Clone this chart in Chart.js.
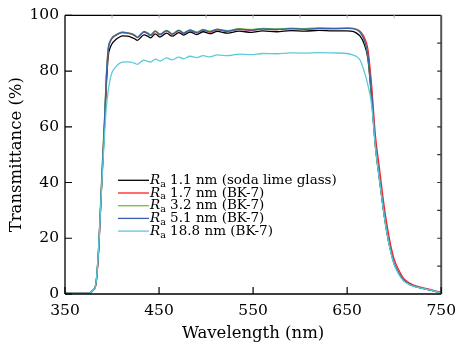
<!DOCTYPE html>
<html>
<head>
<meta charset="utf-8">
<script src="https://cdn.jsdelivr.net/npm/chart.js@4"></script>
<style>
  html, body { margin: 0; padding: 0; background: #fff; }
  #wrap { width: 464px; height: 350px; }
</style>
</head>
<body>
<div id="wrap"><canvas id="chart" width="464" height="350"></canvas></div>
<script>
const wavelengths = [350,360,370,376,380, 383,386,388,390,392, 394,396,398,400,404, 408,411,416,420,424,
  427,431,434,438,441, 446,451,458,464,471, 476,483,490,497,504, 512,523,535,548,560,
  575,590,605,620,635, 650,656,660,664,668, 672,676,680,684,688, 692,696,700,705,710, 715,720,730,740,750];

const sodaLime = [0.3,0.2,0.2,0.4,1.4, 3.8,17,32,46,60, 75,85.5,88.3,89.8,91.3, 92.2,92.6,92.5,92.2,91.6,
  91.0,92.2,93.0,92.5,91.9, 93.3,92.2,93.6,92.5,93.8, 92.9,94.0,93.1,94.1,93.4, 94.2,93.6,94.3,93.9,94.4,
  94.1,94.5,94.3,94.6,94.4, 94.4,94.2,93.6,92.4,89.8, 84.5,70,53,42,31.5, 22.5,15.8,10.8,7.3,4.9, 3.7,2.9,2.0,1.3,0.4];
const bk7_17 = [0.3,0.2,0.2,0.4,1.4, 3.8,17,32,47,61, 77,87.5,90.4,91.7,92.8, 93.5,93.8,93.6,93.3,92.7,
  92.0,93.2,94.0,93.4,92.8, 94.2,93.0,94.4,93.2,94.5, 93.5,94.6,93.7,94.7,94.0, 94.8,94.2,95.0,94.6,95.1,
  94.9,95.2,95.0,95.3,95.2, 95.4,95.3,95.0,94.2,92.2, 88,75,57,46,35, 25.5,18,12.5,8.5,5.6, 4.2,3.3,2.3,1.5,0.5];
const bk7_32 = [0.3,0.2,0.2,0.4,1.6, 4.2,18.5,34,49,63, 79,88.5,90.8,92.0,93.0, 93.7,94.0,93.8,93.5,92.9,
  92.2,93.4,94.2,93.6,93.0, 94.4,93.3,94.6,93.4,94.7, 93.8,94.8,94.0,94.9,94.3, 95.0,94.5,95.2,94.9,95.3,
  95.1,95.4,95.2,95.5,95.4, 95.4,95.3,94.9,93.9,91.2, 85.5,71,53,42,31.5, 22.5,15.8,10.8,7.3,4.9, 3.7,2.9,2.0,1.3,0.4];
const bk7_51 = [0.3,0.2,0.2,0.4,1.5, 4,18,33,48,62, 78,88,90.6,91.8,92.9, 93.6,93.9,93.7,93.4,92.8,
  92.1,93.3,94.1,93.5,92.9, 94.3,93.1,94.5,93.3,94.6, 93.6,94.7,93.8,94.8,94.1, 94.9,94.3,95.0,94.7,95.1,
  94.9,95.2,95.0,95.3,95.2, 95.3,95.2,94.8,93.8,91.3, 86,72,54,43,32, 23,16,11,7.5,5, 3.8,3.0,2.1,1.3,0.4];
const bk7_188 = [0.3,0.2,0.2,0.4,1.5, 4,18,32,45,57, 67,73,77,79.5,81.5, 82.8,83.2,83.3,83.2,82.8,
  82.4,83.4,83.9,83.5,83.2, 84.3,83.6,84.7,84.0,85.0, 84.4,85.3,84.8,85.5,85.1, 85.8,85.5,86.1,85.9,86.3,
  86.2,86.5,86.4,86.6,86.5, 86.3,85.8,85.2,83.8,80, 75,68,53,42,31.5, 22.5,15.5,10.5,7,4.7, 3.6,2.8,2.0,1.3,0.4];

const roughness = ["1.1 nm (soda lime glass)", "1.7 nm (BK-7)", "3.2 nm (BK-7)", "5.1 nm (BK-7)", "18.8 nm (BK-7)"];
const seriesValues = [sodaLime, bk7_17, bk7_32, bk7_51, bk7_188];
const seriesColors = ["#000000", "#ff2020", "#6cc33c", "#3a5fae", "#5ccad8"];

const xTicks = [350, 450, 550, 650, 750];
const yTicks = [0, 20, 40, 60, 80, 100];
const topTicks = [400, 450, 500, 550, 600, 650, 700];
const rightTicks = [10, 20, 30, 40, 50, 60, 70, 80, 90];

const serif = "'DejaVu Serif', 'Liberation Serif', serif";

const datasets = seriesValues.map((vals, i) => ({
  label: roughness[i],
  data: wavelengths.map((w, j) => ({ x: w, y: vals[j] })),
  borderColor: seriesColors[i],
  backgroundColor: seriesColors[i],
  borderWidth: 1.3,
  pointRadius: 0,
  cubicInterpolationMode: "monotone",
  order: seriesValues.length - i,
}));

// box, inward ticks
const framePlugin = {
  id: "frame",
  afterDatasetsDraw(chart) {
    const { ctx, chartArea: a, scales } = chart;
    const x = scales.x, y = scales.y;
    ctx.save();
    ctx.lineCap = "butt";
    ctx.strokeStyle = "#000";
    ctx.lineWidth = 1.3;
    ctx.beginPath();
    ctx.moveTo(a.left, a.top); ctx.lineTo(a.right, a.top);
    ctx.moveTo(a.left, a.top); ctx.lineTo(a.left, a.bottom);
    ctx.moveTo(a.left, a.bottom); ctx.lineTo(a.right, a.bottom);
    ctx.stroke();
    ctx.strokeStyle = "#555";
    ctx.lineWidth = 2;
    ctx.beginPath();
    ctx.moveTo(a.right, a.top); ctx.lineTo(a.right, a.bottom);
    ctx.stroke();

    ctx.strokeStyle = "#000";
    ctx.lineWidth = 1.2;
    ctx.beginPath();
    yTicks.forEach((v) => {
      const py = y.getPixelForValue(v);
      ctx.moveTo(a.left, py); ctx.lineTo(a.left + 7, py);
    });
    xTicks.forEach((v) => {
      const px = x.getPixelForValue(v);
      ctx.moveTo(px, a.bottom); ctx.lineTo(px, a.bottom - 7);
    });
    ctx.stroke();

    ctx.strokeStyle = "#333";
    ctx.beginPath();
    rightTicks.forEach((v) => {
      const py = y.getPixelForValue(v);
      ctx.moveTo(a.right, py); ctx.lineTo(a.right - 4, py);
    });
    ctx.stroke();

    ctx.strokeStyle = "#bbb";
    ctx.beginPath();
    topTicks.forEach((v) => {
      const px = x.getPixelForValue(v);
      ctx.moveTo(px, a.top); ctx.lineTo(px, a.top + 3);
    });
    ctx.stroke();
    ctx.restore();
  },
};

// legend inside the plot, with italic R and subscript a
const legendPlugin = {
  id: "innerLegend",
  afterDraw(chart) {
    const { ctx, chartArea: a } = chart;
    const x0 = a.left + 53;
    const y0 = a.top + 165;
    const rowH = 12.7;
    ctx.save();
    chart.data.datasets.forEach((ds, i) => {
      const yy = y0 + i * rowH;
      ctx.strokeStyle = ds.borderColor;
      ctx.lineWidth = 1.3;
      ctx.beginPath();
      ctx.moveTo(x0, yy); ctx.lineTo(x0 + 31, yy);
      ctx.stroke();
      ctx.fillStyle = "#000";
      ctx.textBaseline = "middle";
      ctx.textAlign = "left";
      let tx = x0 + 32;
      ctx.font = "italic 13.5px " + serif;
      ctx.fillText("R", tx, yy);
      tx += ctx.measureText("R").width;
      ctx.font = "9.5px " + serif;
      ctx.fillText("a", tx, yy + 4);
      tx += ctx.measureText("a").width;
      ctx.font = "13.5px " + serif;
      ctx.fillText(" " + ds.label, tx, yy);
    });
    ctx.restore();
  },
};

new Chart(document.getElementById("chart"), {
  type: "line",
  data: { datasets },
  options: {
    responsive: false,
    animation: false,
    layout: { padding: { left: 0, right: 18, top: 13, bottom: 0 } },
    plugins: {
      legend: { display: false },
      tooltip: { enabled: false },
    },
    scales: {
      x: {
        type: "linear",
        min: 350,
        max: 750,
        afterBuildTicks: (scale) => { scale.ticks = xTicks.map((v) => ({ value: v })); },
        afterFit: (scale) => { scale.height = 56; },
        grid: { display: false, drawTicks: false },
        border: { display: false },
        ticks: { color: "#000", padding: 8, font: { family: serif, size: 15.5 } },
        title: {
          display: true,
          text: "Wavelength (nm)",
          color: "#000",
          font: { family: serif, size: 16.5 },
          padding: { top: 0, bottom: 6 },
        },
      },
      y: {
        min: 0,
        max: 100,
        afterBuildTicks: (scale) => { scale.ticks = yTicks.map((v) => ({ value: v })); },
        afterFit: (scale) => { scale.width = 65; },
        grid: { display: false, drawTicks: false },
        border: { display: false },
        ticks: { color: "#000", padding: 6, font: { family: serif, size: 15.5 } },
        title: {
          display: true,
          text: "Transmittance (%)",
          color: "#000",
          font: { family: serif, size: 16.5 },
          padding: { top: 7, bottom: 0 },
        },
      },
    },
  },
  plugins: [framePlugin, legendPlugin],
});
</script>
</body>
</html>
